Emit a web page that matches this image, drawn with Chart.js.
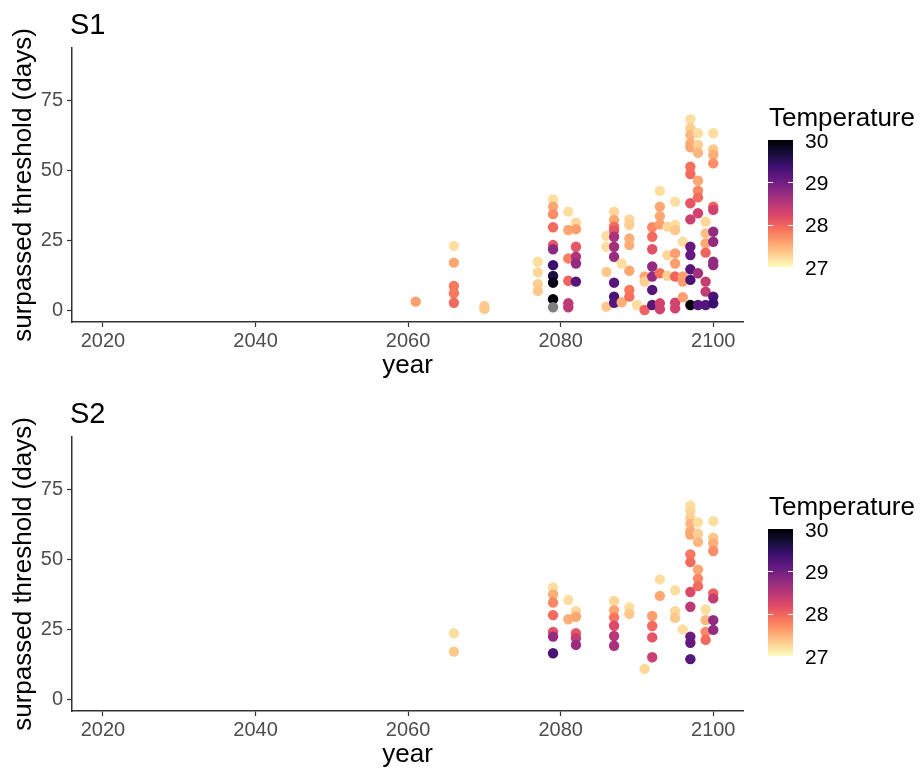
<!DOCTYPE html>
<html><head><meta charset="utf-8">
<script src="https://cdn.jsdelivr.net/npm/chart.js@4/dist/chart.umd.min.js"></script>
<style>
html,body{margin:0;padding:0;background:#fff;overflow:hidden;}
#wrap{position:relative;width:921px;height:769px;}
.panel{position:absolute;left:0;width:921px;}
</style></head><body>
<div id="wrap">
<div class="panel" style="top:0;height:389px"><canvas id="c1" width="921" height="389"></canvas></div>
<div class="panel" style="top:389px;height:380px"><canvas id="c2" width="921" height="380"></canvas></div>
</div>
<script>
// ---- data ----
const xTicks = [2020, 2040, 2060, 2080, 2100];
const yTicks = [0, 25, 50, 75];
const tempTicks = [27, 28, 29, 30];

const s1Years = [2061, 2066, 2070, 2077, 2079, 2081, 2082, 2086, 2087, 2088, 2089, 2090, 2091, 2092, 2093, 2094, 2095, 2096, 2097, 2098, 2099, 2100];
const s1Days = [
  [3.0],
  [23.0, 17.0, 8.6, 6.0, 2.6],
  [1.5, 0.4],
  [17.3, 13.5, 9.3, 6.9],
  [39.7, 37.1, 34.4, 29.7, 23.3, 21.8, 16.1, 12.2, 9.8, 3.9, 1.0],
  [35.3, 28.7, 18.5, 10.5, 2.4, 1.0],
  [31.3, 29.0, 22.7, 19.1, 16.7, 10.2],
  [26.6, 22.7, 13.7, 1.2],
  [35.3, 32.3, 29.9, 28.5, 26.3, 22.7, 19.1, 9.8, 4.8, 2.6],
  [16.7, 2.8],
  [32.5, 30.5, 25.7, 23.3, 14.1, 7.2, 4.8],
  [1.8],
  [12.0, 10.2, 0.0],
  [29.7, 26.3, 21.8, 15.6, 12.0, 7.2, 1.8],
  [42.8, 37.1, 33.7, 30.7, 13.2, 2.4, 0.3],
  [29.9, 19.7, 12.3],
  [38.9, 30.5, 28.7, 20.3, 16.7, 12.0, 2.6, 0.6],
  [24.5, 12.0, 10.2, 4.6],
  [68.4, 65.2, 62.8, 59.8, 58.4, 51.4, 48.8, 38.3, 32.5, 22.7, 19.7, 14.6, 10.8, 1.8],
  [63.4, 59.2, 56.4, 46.4, 42.8, 40.4, 34.7, 13.2, 1.8],
  [31.7, 27.5, 23.9, 20.6, 10.2, 6.6, 1.8],
  [63.4, 57.6, 55.6, 52.6, 37.1, 35.9, 28.1, 24.5, 17.3, 16.1, 4.8, 2.4]
];
const s1Temps = [
  [27.6],
  [27.2, 27.55, 27.85, 27.85, 27.95],
  [27.3, 27.35],
  [27.2, 27.25, 27.3, 27.35],
  [27.2, 27.55, 27.7, 27.95, 28.1, 28.8, 29.4, 29.65, 29.9, 30.0, null],
  [27.2, 27.55, 27.8, 28.0, 28.45, 28.45],
  [27.25, 27.6, 28.1, 28.55, 28.75, 29.2],
  [27.2, 27.2, 27.35, 27.35],
  [27.25, 27.55, 27.95, 28.1, 28.6, 28.65, 28.7, 29.2, 29.3, 29.2],
  [27.2, 27.5],
  [27.25, 27.3, 27.5, 27.5, 27.55, 27.85, 27.9],
  [27.2],
  [27.55, 27.3, 28.0],
  [27.75, 27.95, 28.15, 28.75, 28.75, 29.2, 29.2],
  [27.2, 27.55, 27.55, 27.6, 27.9, 28.3, 28.3],
  [27.25, 27.25, 27.3],
  [27.2, 27.2, 27.35, 27.6, 27.6, 28.0, 28.3, 28.3],
  [27.2, 27.6, 27.6, 27.6],
  [27.2, 27.3, 27.45, 27.5, 27.55, 27.9, 27.95, 28.1, 28.35, 29.1, 29.1, 29.2, 29.3, 30.0],
  [27.2, 27.3, 27.45, 27.55, 27.75, 27.95, 28.3, 28.65, 29.2],
  [27.25, 27.4, 27.55, 28.0, 28.4, 28.4, 29.2],
  [27.2, 27.35, 27.5, 27.7, 28.0, 28.3, 28.75, 28.75, 28.75, 28.75, 29.3, 29.4]
];

const s2Years = [2066, 2079, 2081, 2082, 2087, 2089, 2091, 2092, 2093, 2095, 2096, 2097, 2098, 2099, 2100];
const s2Days = [
  [23.6, 17.0],
  [40.0, 37.5, 34.6, 30.1, 24.1, 22.4, 16.4],
  [35.5, 28.6],
  [31.5, 29.5, 23.6, 21.8, 19.4],
  [35.2, 31.9, 29.3, 26.3, 22.6, 19.1],
  [32.9, 30.6],
  [10.8],
  [29.8, 26.2, 22.1, 15.0],
  [42.9, 37.0],
  [39.0, 31.5, 29.1],
  [25.0],
  [69.4, 67.4, 64.9, 62.9, 60.2, 59.0, 51.9, 49.1, 38.4, 33.1, 22.4, 20.2, 14.3],
  [63.4, 59.3, 56.3, 46.4, 43.2, 40.5],
  [32.1, 28.3, 24.1, 21.2],
  [63.8, 57.9, 55.9, 53.1, 37.9, 36.1, 28.3, 24.8]
];
const s2Temps = [
  [27.2, 27.35],
  [27.2, 27.5, 27.75, 27.95, 28.15, 28.75, 29.3],
  [27.2, 27.5],
  [27.25, 27.55, 28.1, 28.4, 28.7],
  [27.25, 27.55, 27.85, 28.2, 28.5, 28.6],
  [27.2, 27.35],
  [27.25],
  [27.6, 27.95, 28.1, 28.35],
  [27.2, 27.55],
  [27.2, 27.25, 27.35],
  [27.2],
  [27.2, 27.25, 27.3, 27.45, 27.5, 27.55, 27.85, 27.95, 28.2, 28.45, 29.05, 29.1, 29.2],
  [27.2, 27.3, 27.45, 27.55, 27.75, 27.95],
  [27.2, 27.45, 27.75, 27.95],
  [27.2, 27.35, 27.5, 27.7, 28.0, 28.4, 28.75, 28.75]
];

// ---- colour scale (magma, reversed: 27 light -> 30 dark) ----
const MAGMA = ['#000004','#140E36','#3B0F70','#641A80','#8C2981','#B73779','#DE4968','#F7705C','#FE9F6D','#FECF92','#FCFDBF'];
const T_MIN = 27, T_MAX = 30;
function hex2rgb(h){ return [parseInt(h.slice(1,3),16), parseInt(h.slice(3,5),16), parseInt(h.slice(5,7),16)]; }
function magma(f){
  f = Math.max(0, Math.min(1, f));
  const p = f * (MAGMA.length - 1), i = Math.min(Math.floor(p), MAGMA.length - 2), t = p - i;
  const a = hex2rgb(MAGMA[i]), b = hex2rgb(MAGMA[i+1]);
  return 'rgb(' + a.map((v,k)=>Math.round(v + (b[k]-v)*t)).join(',') + ')';
}
function tempColor(T){ return T === null ? '#7F7F7F' : magma(1 - (T - T_MIN)/(T_MAX - T_MIN)); }

const FONT = '"Liberation Sans", Arial, Helvetica, sans-serif';

const decorPlugin = {
  id: 'decor',
  afterDraw(chart, args, opts) {
    const ctx = chart.ctx;
    ctx.save();
    ctx.fillStyle = '#000';
    ctx.textAlign = 'left';
    ctx.textBaseline = 'alphabetic';
    ctx.font = '29px ' + FONT;
    ctx.fillText(opts.title, 70, 34);
    // legend
    ctx.font = '26px ' + FONT;
    ctx.fillText('Temperature', 769, 126);
    const x0 = 768, w = 25, top = 140, bot = 267;
    const g = ctx.createLinearGradient(0, top, 0, bot);
    MAGMA.forEach((c, i) => g.addColorStop(i/(MAGMA.length-1), c));
    ctx.fillStyle = g;
    ctx.fillRect(x0, top, w, bot - top);
    const yOf = t => bot - (t - T_MIN)/(T_MAX - T_MIN)*(bot - top);
    ctx.strokeStyle = '#fff';
    ctx.lineWidth = 1;
    tempTicks.forEach(t => {
      if (t === T_MIN || t === T_MAX) return;
      const y = Math.round(yOf(t)) + 0.5;
      ctx.beginPath();
      ctx.moveTo(x0, y); ctx.lineTo(x0 + 5, y);
      ctx.moveTo(x0 + w - 5, y); ctx.lineTo(x0 + w, y);
      ctx.stroke();
    });
    ctx.fillStyle = '#000';
    ctx.font = '21px ' + FONT;
    ctx.textBaseline = 'middle';
    tempTicks.forEach(t => ctx.fillText(String(t), 805, yOf(t) + 2));
    ctx.restore();
  }
};

function makeChart(id, years, days, temps, title, h) {
  const pts = [], cols = [];
  years.forEach((yr, i) => {
    days[i].forEach((d, j) => { pts.push({x: yr, y: d}); cols.push(tempColor(temps[i][j])); });
  });
  return new Chart(document.getElementById(id), {
    type: 'scatter',
    data: { datasets: [{ data: pts, backgroundColor: cols, borderColor: cols, borderWidth: 0,
      pointRadius: 5.2, pointHoverRadius: 5.2 }] },
    options: {
      responsive: false, animation: false, events: [],
      layout: { padding: { top: 48, right: 178, left: 0, bottom: 0 } },
      plugins: { legend: { display: false }, tooltip: { enabled: false }, decor: { title: title } },
      scales: {
        x: {
          type: 'linear', min: 2015.94, max: 2103.9,
          afterBuildTicks: s => { s.ticks = xTicks.map(v => ({ value: v })); },
          afterFit: s => { s.height = h - 322; },
          grid: { drawOnChartArea: false, drawTicks: true, tickLength: 5, tickColor: '#333', tickWidth: 1.2 },
          border: { display: true, color: '#333', width: 1.5 },
          ticks: { color: '#4D4D4D', font: { family: FONT, size: 20 }, padding: 2, maxRotation: 0, autoSkip: false,
            callback: v => String(v) },
          title: { display: true, text: 'year', color: '#000', font: { family: FONT, size: 26, lineHeight: 1 },
            padding: { top: 0, bottom: h - 366 - 13 } }
        },
        y: {
          type: 'linear', min: -4.3, max: 94,
          afterBuildTicks: s => { s.ticks = yTicks.map(v => ({ value: v })); },
          afterFit: s => { s.width = 72; },
          grid: { drawOnChartArea: false, drawTicks: true, tickLength: 5, tickColor: '#333', tickWidth: 1.2 },
          border: { display: true, color: '#333', width: 1.5 },
          ticks: { color: '#4D4D4D', font: { family: FONT, size: 20 }, padding: 4, callback: v => String(v) },
          title: { display: true, text: 'surpassed threshold (days)', color: '#000',
            font: { family: FONT, size: 26, lineHeight: 1 }, padding: { top: 11, bottom: 0 } }
        }
      }
    },
    plugins: [decorPlugin]
  });
}

makeChart('c1', s1Years, s1Days, s1Temps, 'S1', 389);
makeChart('c2', s2Years, s2Days, s2Temps, 'S2', 380);
</script>
</body></html>
